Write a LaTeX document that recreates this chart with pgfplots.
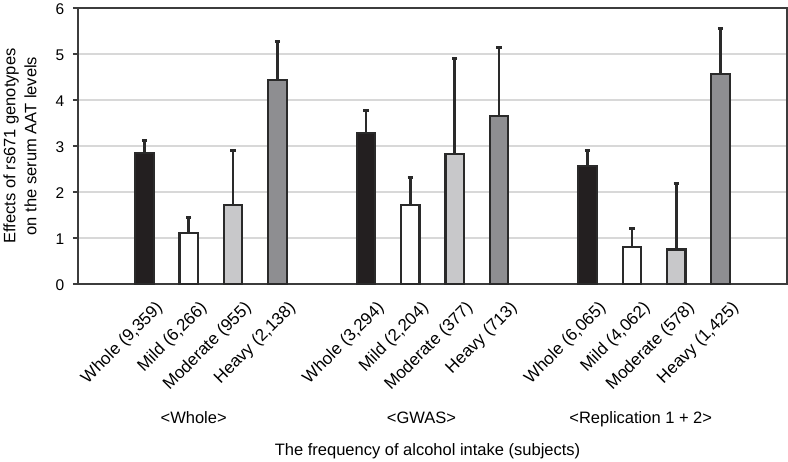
\documentclass[border=0pt]{standalone}
\usepackage{pgfplots}
\pgfplotsset{compat=1.18}
\usepackage{fontspec}
\setmainfont{Liberation Sans}
\definecolor{barblack}{HTML}{231F20}
\definecolor{barlight}{HTML}{C8C8CA}
\definecolor{bardark}{HTML}{8E8E91}
\definecolor{edge}{HTML}{2A2A2A}
\definecolor{gridc}{HTML}{D8D8D8}
\definecolor{framec}{HTML}{3C3C3C}
\pgfplotsset{
  mybar/.style={draw=edge, line width=2.2pt,
    error bars/.cd, y dir=plus, y explicit,
    draw error bar/.code 2 args={%
      \draw[edge, line width=2.8pt] ##1 -- ##2;
      \draw[edge, line width=3pt] ##2 ++(-2.6pt,0) -- ++(5.2pt,0);
    }},
}
\begin{document}
\fontsize{16.5}{20.5}\selectfont
\begin{tikzpicture}
\begin{axis}[
  scale only axis,
  width=709pt, height=276pt,
  xmin=-1.5, xmax=14.5, ymin=0, ymax=6,
  ybar, bar width=18.5pt, bar shift=0pt,
  axis line style={framec, line width=2pt},
  ymajorgrids, grid style={gridc, line width=1.4pt},
  ytick={0,1,2,3,4,5,6},
  ytick pos=left,
  tick align=outside,
  ytick style={framec, line width=1.8pt},
  major tick length=5pt,
  xtick={0,1,2,3,5,6,7,8,10,11,12,13},
  xticklabels={Whole (9{,}359),Mild (6{,}266),Moderate (955),Heavy (2{,}138),
               Whole (3{,}294),Mild (2{,}204),Moderate (377),Heavy (713),
               Whole (6{,}065),Mild (4{,}062),Moderate (578),Heavy (1{,}425)},
  xtick style={draw=none},
  xticklabel style={xshift=10pt, yshift=-3pt, rotate=45, anchor=north east, font=\fontsize{17}{20}\selectfont},
  yticklabel style={xshift=-3pt, yshift=-1pt, font=\fontsize{15.5}{18}\selectfont},
  /pgf/number format/assume math mode=true,
  ylabel={Effects of rs671 genotypes\\on the serum AAT levels},
  ylabel style={align=center, at={(axis description cs:-0.0505,0.5)}, anchor=south, font=\fontsize{16.5}{21}\selectfont},
  clip=false,
]
\addplot[fill=barblack, mybar] coordinates {
  (0,2.84) +- (0,0.27)
  (5,3.29) +- (0,0.48)
  (10,2.57) +- (0,0.34)
};
\addplot[fill=white, mybar] coordinates {
  (1,1.10) +- (0,0.34)
  (6,1.71) +- (0,0.61)
  (11,0.80) +- (0,0.40)
};
\addplot[fill=barlight, mybar] coordinates {
  (2,1.71) +- (0,1.20)
  (7,2.82) +- (0,2.09)
  (12,0.75) +- (0,1.44)
};
\addplot[fill=bardark, mybar] coordinates {
  (3,4.43) +- (0,0.84)
  (8,3.65) +- (0,1.50)
  (13,4.56) +- (0,0.99)
};
\node[anchor=base, yshift=-140pt] at (axis cs:1.11,0) {<Whole>};
\node[anchor=base, yshift=-140pt] at (axis cs:6.25,0) {<GWAS>};
\node[anchor=base, yshift=-140pt] at (axis cs:11.2,0) {<Replication 1 + 2>};
\node[anchor=base, yshift=-172pt] at (axis description cs:0.493,0) {The frequency of alcohol intake (subjects)};
\coordinate (bl) at (rel axis cs:0,0);
\coordinate (tr) at (rel axis cs:1,1);
\end{axis}
\pgfresetboundingbox
\path[use as bounding box] ([xshift=-78pt,yshift=-178pt]bl) rectangle ([xshift=1pt,yshift=8pt]tr);
\end{tikzpicture}
\end{document}
